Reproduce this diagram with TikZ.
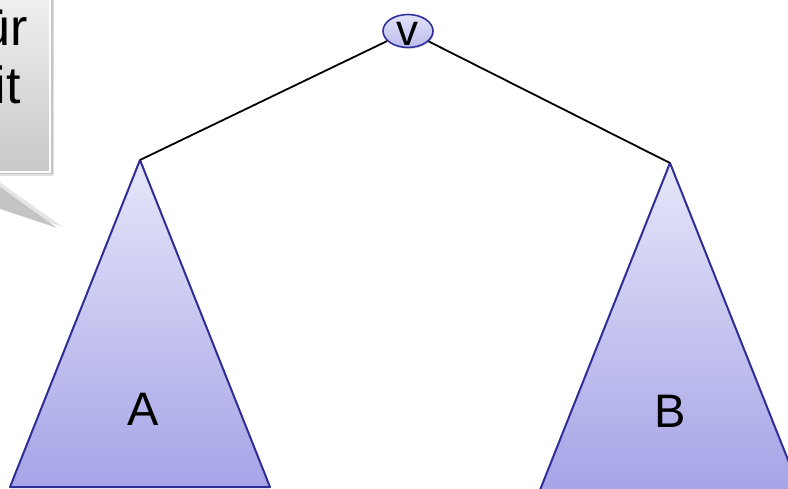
\documentclass[tikz,border=0pt]{standalone}
\usepackage{fontspec}
\setmainfont{Liberation Sans}
\usetikzlibrary{shapes.geometric,shadows}
\definecolor{triborder}{RGB}{46,46,150}
\definecolor{tritop}{RGB}{230,230,249}
\definecolor{tribot}{RGB}{166,164,231}
\definecolor{vfilltop}{RGB}{226,226,248}
\definecolor{vfillbot}{RGB}{188,188,236}
\definecolor{vborder}{RGB}{48,48,158}
\definecolor{boxtop}{RGB}{250,250,250}
\definecolor{boxbot}{RGB}{200,200,200}
\definecolor{wedge}{RGB}{196,196,196}
\begin{document}
\begin{tikzpicture}[x=1pt,y=-1pt,
  tri/.style={draw=triborder, line width=2pt, line join=round, top color=tritop, bottom color=tribot},
  edge/.style={draw=black, line width=1.8pt},
  lbl/.style={inner sep=0pt, font=\fontsize{47}{50}\selectfont, anchor=base},
  calltext/.style={inner sep=0pt, font=\fontsize{52}{58}\selectfont, anchor=base east},
  vnode/.style={ellipse, draw=vborder, line width=1.6pt, top color=vfilltop, bottom color=vfillbot,
    minimum width=50pt, minimum height=33pt, inner sep=0pt,
    drop shadow={opacity=0.25, shadow xshift=1.5pt, shadow yshift=-1.5pt}}]
\useasboundingbox (0,0) rectangle (788,489);
\begin{scope}
\clip (0,0) rectangle (788,489);
% callout shadow
\fill[black, opacity=0.12] (-200,-50) rectangle (54,176);
\fill[black, opacity=0.12] (-200,-50) rectangle (52.5,174.5);
% callout wedge
\coordinate (w1) at (-21,172);
\coordinate (wtip) at (60,230);
\coordinate (w2) at (-114,172);
\fill[black, opacity=0.10] ([xshift=2pt,yshift=3pt]w1) -- ([xshift=3pt,yshift=3pt]wtip) -- ([xshift=2pt,yshift=3pt]w2) -- cycle;
\fill[wedge] (w1) -- (wtip) -- (w2) -- cycle;
\draw[white, line width=2pt] (wtip) -- (w2);
% callout box
\path[top color=boxtop, bottom color=boxbot, draw=white, line width=2pt] (-200,-50) rectangle (50,172);
\node[calltext] (t1) at (28,46) {ür};
\node[calltext] (t2) at (21,104) {it};
% triangles
\coordinate (Atop) at (140,160);
\coordinate (Al) at (10,487);
\coordinate (Ar) at (270,487);
\path[tri] (Atop) -- (Al) -- (Ar) -- cycle;
\coordinate (Btop) at (670,163);
\coordinate (Bl) at (540,490);
\coordinate (Br) at (800,490);
\path[tri] (Btop) -- (Bl) -- (Br) -- cycle;
\node[lbl] (Alabel) at (143,425) {A};
\node[lbl] (Blabel) at (670,427) {B};
% root
\node[vnode] (v) at (408,31) {};
\node[inner sep=0pt, font=\fontsize{44}{44}\selectfont, anchor=base] (vlabel) at (407,46) {v};
\draw[edge] (v) -- (Atop);
\draw[edge] (v) -- (Btop);
\end{scope}
\end{tikzpicture}
\end{document}
